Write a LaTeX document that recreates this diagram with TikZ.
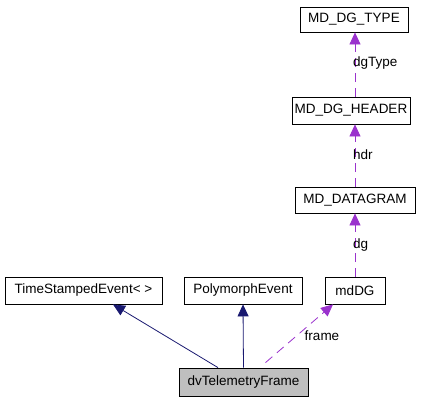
\documentclass[tikz,border=0pt]{standalone}
\usepackage{fontspec}
\setmainfont{Liberation Sans}
\usetikzlibrary{arrows.meta}
\definecolor{navyc}{HTML}{191970}
\definecolor{purp}{HTML}{9A32CD}
\definecolor{grayfill}{HTML}{BFBFBF}
\begin{document}
\begin{tikzpicture}[x=1pt,y=-1pt,
  cls/.style={draw=black,line width=0.8pt,fill=white,inner sep=0pt,font=\fontsize{13.5}{15}\selectfont},
  inh/.style={draw=navyc,line width=0.8pt,-{Triangle[length=12pt,width=11pt]}},
  usage/.style={draw=purp,line width=0.8pt,dash pattern=on 9pt off 6pt,-{Triangle[length=12pt,width=11pt]}},
  lbl/.style={font=\fontsize{13.5}{15}\selectfont,inner sep=0pt}]
\useasboundingbox (0,0) rectangle (424,400);
\node[cls,minimum width=108pt,minimum height=25pt] (type) at (354,19.5) {MD\_DG\_TYPE};
\node[cls,minimum width=118pt,minimum height=27pt] (header) at (351,110.5) {MD\_DG\_HEADER};
\node[cls,minimum width=120pt,minimum height=26pt] (dgram) at (355,200) {MD\_DATAGRAM};
\node[cls,minimum width=60pt,minimum height=27pt] (mddg) at (355,290.5) {mdDG};
\node[cls,minimum width=157pt,minimum height=27pt] (tse) at (83.5,290.5) {TimeStampedEvent< >};
\node[cls,minimum width=118pt,minimum height=27pt] (pe) at (243,290.5) {PolymorphEvent};
\node[cls,fill=grayfill,minimum width=129pt,minimum height=28pt] (dvtf) at (243.5,382) {dvTelemetryFrame};
\draw[inh] ([xshift=-25.5pt]dvtf.north) -- ([xshift=29.5pt]tse.south);
\draw[inh] (dvtf.north) -- (pe.south);
\draw[usage] ([xshift=22pt,yshift=5pt]dvtf.north) -- ([xshift=-22pt]mddg.south);
\node[lbl] (lframe) at (322,336) {frame};
\draw[usage] (mddg.north) -- (dgram.south);
\node[lbl,anchor=west] (ldg) at (353,245) {dg};
\draw[usage] (dgram.north) -- (dgram.north |- header.south);
\node[lbl,anchor=west] (lhdr) at (353,155) {hdr};
\draw[usage] (dgram.north |- header.north) -- (dgram.north |- type.south);
\node[lbl,anchor=west] (ldgtype) at (353,63) {dgType};
\end{tikzpicture}
\end{document}
